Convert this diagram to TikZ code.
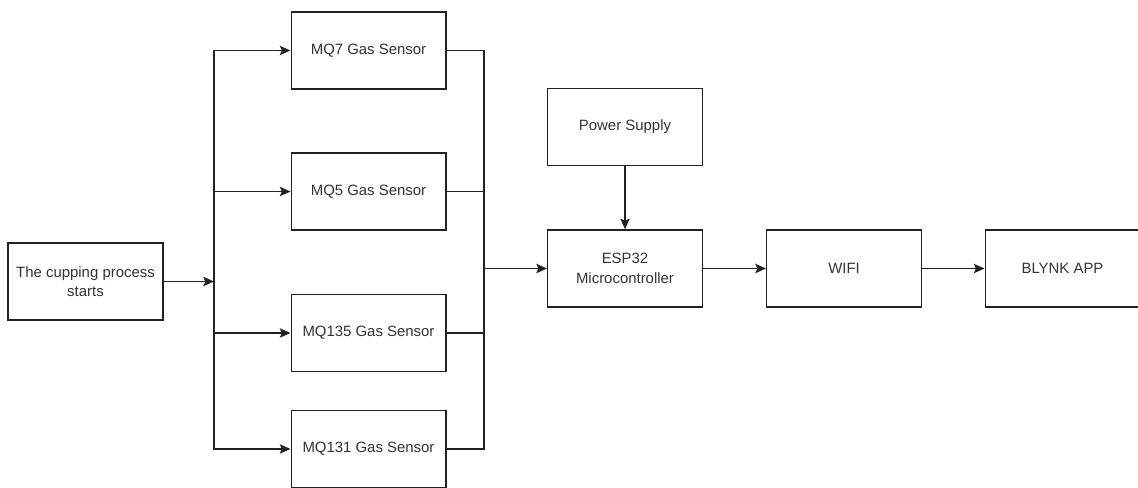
\documentclass[tikz,border=0pt]{standalone}
\usepackage{fontspec}
\setmainfont{Liberation Sans}
\usetikzlibrary{arrows.meta}
\definecolor{lncol}{HTML}{222222}
\definecolor{txcol}{HTML}{333333}
\begin{document}
\begin{tikzpicture}[x=0.75pt,y=-0.75pt,
  blk/.style={draw=lncol, line width=1pt, fill=white, minimum width=116pt, minimum height=57.75pt,
    inner sep=0pt, align=center, text=txcol, font=\fontsize{11.2}{14.6}\selectfont},
  ln/.style={draw=lncol, line width=1pt},
  arr/.style={ln, -{Stealth[length=8pt,width=7pt,inset=1.5pt]}}]
\useasboundingbox (0,0) rectangle (1138,487);
\node[blk, minimum width=116.25pt] (start) at (85.5,281.5) {The cupping process\\starts};
\node[blk] (mq7) at (368.5,50.5) {MQ7 Gas Sensor};
\node[blk] (mq5) at (368.5,191.5) {MQ5 Gas Sensor};
\node[blk] (mq135) at (368.5,333) {MQ135 Gas Sensor};
\node[blk] (mq131) at (368.5,449) {MQ131 Gas Sensor};
\node[blk] (ps) at (625,127) {Power Supply};
\node[blk] (esp) at (625,268.5) {ESP32\\Microcontroller};
\node[blk] (wifi) at (844,268.5) {WIFI};
\node[blk] (blynk) at (1062.5,268.5) {BLYNK APP};
\coordinate (bl) at (214,281.5);
\coordinate (br) at (484,268.5);
\draw[arr] (start.east) -- (bl);
\draw[arr] (bl) |- (mq7.west);
\draw[arr] (bl) |- (mq5.west);
\draw[arr] (bl) |- (mq135.west);
\draw[arr] (bl) |- (mq131.west);
\draw[ln] (mq7.east) -| (br);
\draw[ln] (mq5.east) -| (br);
\draw[ln] (mq135.east) -| (br);
\draw[ln] (mq131.east) -| (br);
\draw[arr] (br) -- (esp.west);
\draw[arr] (ps.south) -- (esp.north);
\draw[arr] (esp.east) -- (wifi.west);
\draw[arr] (wifi.east) -- (blynk.west);
\end{tikzpicture}
\end{document}
